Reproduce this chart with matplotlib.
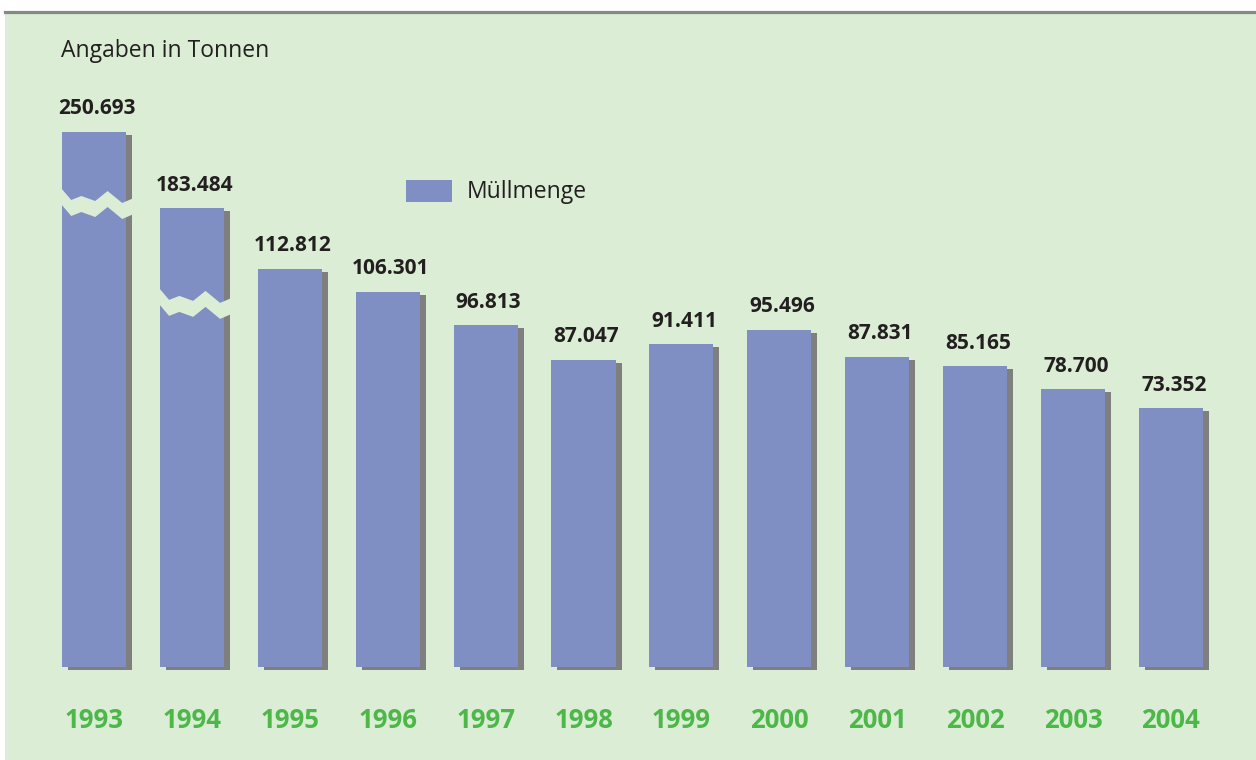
import numpy as np
import matplotlib
matplotlib.use("Agg")
import matplotlib.pyplot as plt
from matplotlib.patches import Rectangle, Polygon
from matplotlib.transforms import ScaledTranslation
from matplotlib.lines import Line2D

plt.rcParams['font.family'] = ['Open Sans', 'DejaVu Sans']

years = ['1993', '1994', '1995', '1996', '1997', '1998',
         '1999', '2000', '2001', '2002', '2003', '2004']
tonnes = [250693, 183484, 112812, 106301, 96813, 87047,
          91411, 95496, 87831, 85165, 78700, 73352]
value_labels = ['250.693', '183.484', '112.812', '106.301', '96.813', '87.047',
                '91.411', '95.496', '87.831', '85.165', '78.700', '73.352']
# the two first bars are drawn cut (axis break), shown height in tonnes
shown = [151600, 130000] + tonnes[2:]
# where the break band sits on the cut bars
breaks = {0: 135700, 1: 107400}

bg = '#dbedd5'
bar_col = '#7f8fc3'
shadow_col = '#7f7f7f'
green = '#4db749'
dark = '#231f20'

W, H = 1256, 760
fig = plt.figure(figsize=(W / 100, H / 100), dpi=100)
fig.patch.set_facecolor('white')
fig.patches.append(Rectangle((5 / W, 0), 1, 1 - 13 / H, transform=fig.transFigure,
                             facecolor=bg, edgecolor='none', zorder=-10))
fig.lines.append(Line2D([5 / W, 1], [1 - 12 / H, 1 - 12 / H], transform=fig.transFigure,
                        color='#878787', linewidth=2.3, zorder=-9))

# axes placed so that bar pitch ~98px and baseline at y=667px
pitch = 97.9
px_per_t = 1 / 283.3
ylo, yhi = -20000, 170000
left_px = 94 - 0.5 * pitch
base_px = 667
ax_h = (yhi - ylo) * px_per_t
ax_bottom = H - base_px - (-ylo) * px_per_t
ax = fig.add_axes([left_px / W, ax_bottom / H, 12 * pitch / W, ax_h / H])
ax.set_zorder(5)
ax.set_xlim(-0.5, 11.5)
ax.set_ylim(ylo, yhi)
ax.axis('off')
ax.patch.set_alpha(0)

x = np.arange(len(years))
width = 0.654
shadow_tr = ax.transData + ScaledTranslation(6 / 100, -3 / 100, fig.dpi_scale_trans)
ax.bar(x, shown, width=width, color=shadow_col, transform=shadow_tr, zorder=2)
bars = ax.bar(x, shown, width=width, color=bar_col, zorder=3, label='Müllmenge')

# zigzag break bands
zx = np.array([0.0, 0.14, 0.28, 0.47, 0.64, 0.84, 1.0])
zy = np.array([0, -12, -8, -13, -3, -15, -10]) / px_per_t
band = 16 / px_per_t
span = (width + 6 / pitch) * 1.04
for i, yb in breaks.items():
    x0 = i - width / 2 - 0.01
    xs = x0 + zx * span
    top = np.column_stack([xs, yb + zy])
    bot = np.column_stack([xs[::-1], (yb + zy - band)[::-1]])
    ax.add_patch(Polygon(np.vstack([top, bot]), closed=True, facecolor=bg,
                         edgecolor='none', zorder=4))

for i, lab in enumerate(value_labels):
    ax.annotate(lab, xy=(x[i], shown[i]), xytext=(3 * 0.72, 23 * 0.72),
                textcoords='offset points', ha='center', va='center',
                fontsize=15, fontweight='bold', color=dark, zorder=5)
    ax.annotate(years[i], xy=(x[i], 0), xytext=(0, -53 * 0.72),
                textcoords='offset points', ha='center', va='center',
                fontsize=18.5, fontweight='bold', color=green)

fig.text(61 / W, 1 - 51 / H, 'Angaben in Tonnen', ha='left', va='center',
         fontsize=16.5, color=dark)

fs = 16.5
ax.legend(handles=[bars], loc='center left', fontsize=fs, frameon=False,
          bbox_to_anchor=(406 / W, 1 - 192 / H), bbox_transform=fig.transFigure,
          borderpad=0, borderaxespad=0, handlelength=46 / (fs / 0.72),
          handleheight=25 / (fs / 0.72), handletextpad=15 / (fs / 0.72),
          labelcolor=dark)

fig.savefig('out.png', dpi=100, facecolor=fig.get_facecolor())
